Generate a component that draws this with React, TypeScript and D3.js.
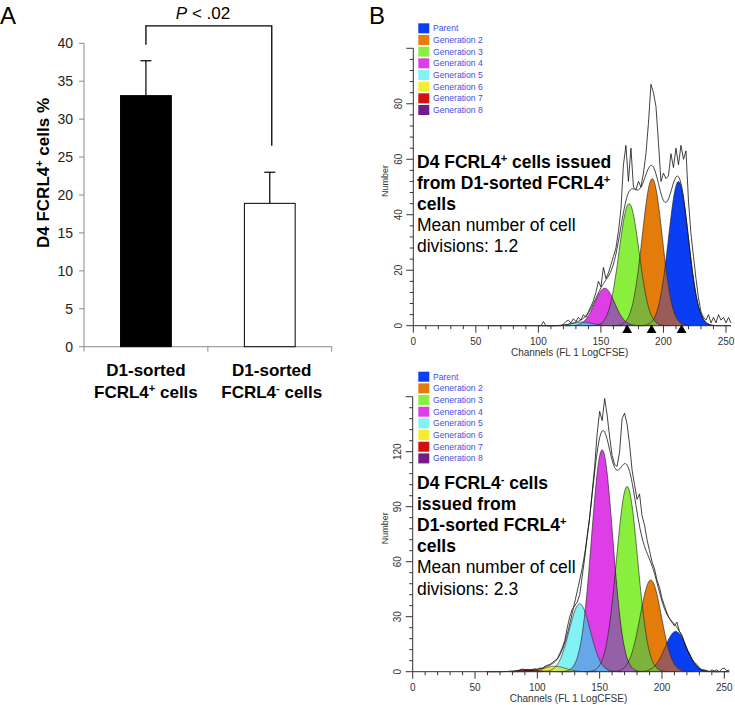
import * as React from "react";
import * as d3 from "d3";

// ---------- panel A: bar chart ----------
const categories = ["FCRL4+", "FCRL4-"];
const barMeans = [33.1, 18.9];
const barErrors = [4.6, 4.1];
const barFills = ["#000000", "#ffffff"];
const yTicksA = [0, 5, 10, 15, 20, 25, 30, 35, 40];
// bracket: left leg end, bracket top, right leg end (in % units)
const bracketValues = [39.8, 42.3, 26.5];

// ---------- panel B: CFSE proliferation fits ----------
const generations = ["Parent", "Generation 2", "Generation 3", "Generation 4", "Generation 5", "Generation 6", "Generation 7", "Generation 8"];
const genColors = ["#0a3ef2", "#e47c0c", "#8aee3e", "#de3ee6", "#82f2f4", "#f2ee2e", "#d41010", "#741c86"];
const overlapColors = ["#9a5c58", "#7fb23a", "#9660a6", "#68a6ea", "#c6e66a", "#d87a20", "#8a1a4e"];

// fitted generation peaks (channel centre, height)
const topCenters = [212, 191, 172.5, 153, 135, 117, 98, 80];
const topHeights = [52, 53, 44, 13.5, 1.3, 0, 0, 0];
const topSd = 8;
const bottomCenters = [211, 191, 172, 152, 134, 114, 93, 80];
const bottomHeights = [22, 50, 101, 121, 37, 3, 1, 0];
const bottomSd = 8.5;

// raw histograms, one value every 2 channels
const topRawStart = 100;
const topRaw = [
  0, 0, 1.5, 0, 0, 0, 0, 0, 0, 0,
  0.5, 1.5, 2, 1, 2.5, 1.5, 3, 2, 4, 3,
  5, 7, 9, 12, 16, 14, 21, 17, 19, 22,
  25, 28, 34, 42, 58, 65, 52, 64, 50, 49,
  52, 50, 55, 62, 73, 87, 84, 79, 66, 52,
  55, 53, 54, 62, 57, 64, 58, 65, 60, 63,
  45, 33, 25, 17, 10, 5, 3, 2, 4, 1,
  3, 1, 4, 2, 3, 1, 3, 1,
];
const bottomRawStart = 80;
const bottomRaw = [
  0, 0, 0.5, 1, 1.5, 1, 1, 0.5, 1, 1.5,
  1, 2, 1.5, 3, 3.5, 4, 5, 6, 7, 10,
  13, 17, 24, 30, 34, 36, 38, 42, 52, 62,
  74, 84, 98, 112, 130, 142, 137, 149, 140, 128,
  118, 113, 112, 120, 138, 141, 135, 124, 110, 102,
  94, 97, 85, 80, 72, 66, 60, 56, 50, 46,
  40, 36, 32, 29, 27, 25, 27, 22, 20, 16,
  12, 10, 7, 5, 4, 2, 1, 1, 0.5, 0,
  1, 0.5, 1, 0, 1.5, 2, 0.5, 1,
];
const topMarkers = [171, 190.5, 214.5];

type Seg = [string, boolean];
const topText: { bold: boolean; segs: Seg[] }[] = [
  { bold: true, segs: [["D4 FCRL4", false], ["+", true], [" cells issued", false]] },
  { bold: true, segs: [["from D1-sorted FCRL4", false], ["+", true]] },
  { bold: true, segs: [["cells", false]] },
  { bold: false, segs: [["Mean number of cell", false]] },
  { bold: false, segs: [["divisions: 1.2", false]] },
];
const bottomText: { bold: boolean; segs: Seg[] }[] = [
  { bold: true, segs: [["D4 FCRL4", false], ["-", true], [" cells", false]] },
  { bold: true, segs: [["issued from", false]] },
  { bold: true, segs: [["D1-sorted FCRL4", false], ["+", true]] },
  { bold: true, segs: [["cells", false]] },
  { bold: false, segs: [["Mean number of cell", false]] },
  { bold: false, segs: [["divisions: 2.3", false]] },
];

const FONT = "'Liberation Sans', Arial, Helvetica, sans-serif";

function BarPanel() {
  const y = d3.scaleLinear().domain([0, 40]).range([346.7, 43.3]);
  const x = d3.scaleBand<string>().domain(categories).range([84, 331.7]).paddingInner(0.59).paddingOuter(0.295);
  const step = x.step();
  const cx = (c: string) => (x(c) as number) + x.bandwidth() / 2;
  const axisGrey = "#8a8a8a";
  const bx0 = cx(categories[0]);
  const bx1 = cx(categories[1]) + 2;

  return (
    <g fontFamily={FONT}>
      <text x={0} y={24} fontSize={24}>A</text>
      {/* y axis */}
      <line x1={84} x2={84} y1={y(0)} y2={y(40)} stroke={axisGrey} />
      {yTicksA.map((t) => (
        <g key={t}>
          <line x1={79} x2={84} y1={y(t)} y2={y(t)} stroke={axisGrey} />
          <text x={73} y={y(t) + 5} fontSize={14} textAnchor="end" fill="#222">{t}</text>
        </g>
      ))}
      {/* x axis */}
      <line x1={84} x2={331.7} y1={y(0)} y2={y(0)} stroke={axisGrey} />
      {[0, 1, 2].map((i) => (
        <line key={i} x1={84 + i * step} x2={84 + i * step} y1={y(0)} y2={y(0) + 5} stroke={axisGrey} />
      ))}
      {/* bars + error bars */}
      {categories.map((c, i) => (
        <g key={c}>
          <rect x={x(c)} y={y(barMeans[i])} width={x.bandwidth()} height={y(0) - y(barMeans[i])}
            fill={barFills[i]} stroke="#000" strokeWidth={1} />
          <line x1={cx(c)} x2={cx(c)} y1={y(barMeans[i])} y2={y(barMeans[i] + barErrors[i])} stroke="#000" strokeWidth={1.2} />
          <line x1={cx(c) - 5.5} x2={cx(c) + 5.5} y1={y(barMeans[i] + barErrors[i])} y2={y(barMeans[i] + barErrors[i])} stroke="#000" strokeWidth={1.2} />
        </g>
      ))}
      {/* significance bracket */}
      <path d={`M${bx0},${y(bracketValues[0])}V${y(bracketValues[1])}H${bx1}V${y(bracketValues[2])}`}
        fill="none" stroke="#000" strokeWidth={1.3} />
      <text x={203} y={18.5} fontSize={17} textAnchor="middle">
        <tspan fontStyle="italic">P</tspan> &lt; .02
      </text>
      {/* y label */}
      <text transform={`translate(49,${(y(0) + y(40)) / 2 - 22}) rotate(-90)`} fontSize={17} fontWeight="bold" textAnchor="middle">
        D4 FCRL4<tspan dy={-6} fontSize={11}>+</tspan><tspan dy={6}> cells %</tspan>
      </text>
      {/* category labels */}
      {categories.map((c, i) => (
        <g key={c} fontSize={17} fontWeight="bold" textAnchor="middle">
          <text x={cx(c) + (i === 1 ? 2 : 0)} y={376}>D1-sorted</text>
          <text x={cx(c) + (i === 1 ? 2 : 0)} y={397.5}>
            FCRL4<tspan dy={-6} fontSize={11}>{c.slice(-1)}</tspan><tspan dy={6}> cells</tspan>
          </text>
        </g>
      ))}
    </g>
  );
}

interface HistProps {
  centers: number[];
  heights: number[];
  sd: number;
  rawStart: number;
  raw: number[];
  markers: number[];
  yMax: number;
  yMinor: number;
  yMajor: number;
  frame: { x0: number; x250: number; y0: number; yTop: number };
  legendY: number;
  lines: { bold: boolean; segs: Seg[] }[];
  textY: number;
}

function Histogram(p: HistProps) {
  const x = d3.scaleLinear().domain([0, 250]).range([p.frame.x0, p.frame.x250]);
  const y = d3.scaleLinear().domain([0, p.yMax]).range([p.frame.y0, p.frame.yTop]);
  const g = (i: number, ch: number) => p.heights[i] * Math.exp(-((ch - p.centers[i]) ** 2) / (2 * p.sd * p.sd));
  const span = (i: number): [number, number] => [p.centers[i] - 4 * p.sd, p.centers[i] + 4 * p.sd];

  const area = d3.area<[number, number]>().x((d) => x(d[0])).y0(y(0)).y1((d) => y(d[1]));
  const line = d3.line<[number, number]>().x((d) => x(d[0])).y((d) => y(d[1]));

  const active = p.heights.map((h, i) => i).filter((i) => p.heights[i] > 0);
  const genPts = (i: number) => d3.range(span(i)[0], span(i)[1] + 0.01, 0.5).map((ch) => [ch, g(i, ch)] as [number, number]);

  const overlaps = d3.range(generations.length - 1)
    .filter((i) => p.heights[i] > 0 && p.heights[i + 1] > 0)
    .map((i) => {
      const lo = Math.max(span(i)[0], span(i + 1)[0]);
      const hi = Math.min(span(i)[1], span(i + 1)[1]);
      const pts = d3.range(lo, hi + 0.01, 0.5).map((ch) => [ch, Math.min(g(i, ch), g(i + 1, ch))] as [number, number]);
      return { i, pts };
    });

  const sumPts = d3.range(60, 254.01, 0.5).map((ch) => [ch, d3.sum(active, (i) => g(i, ch))] as [number, number]);
  const rawPts = p.raw.map((v, k) => [p.rawStart + 2 * k, v] as [number, number]);

  const xMinor = d3.range(0, 251, 10);
  const yMinorTicks = d3.range(0, p.yMax + 0.01, p.yMinor);
  const tri = d3.symbol().type(d3.symbolTriangle).size(42)()!;
  const axisCol = "#333";

  return (
    <g fontFamily={FONT}>
      {/* generation peaks */}
      {active.map((i) => (
        <path key={"a" + i} d={area(genPts(i))!} fill={genColors[i]} />
      ))}
      {overlaps.map((o) => (
        <path key={"o" + o.i} d={area(o.pts)!} fill={overlapColors[o.i]} />
      ))}
      {active.map((i) => (
        <path key={"l" + i} d={line(genPts(i))!} fill="none" stroke="#1a1a1a" strokeWidth={0.6} />
      ))}
      {/* model sum and raw data */}
      <path d={line(sumPts)!} fill="none" stroke="#111" strokeWidth={0.8} />
      <path d={line(rawPts)!} fill="none" stroke="#111" strokeWidth={0.8} />

      {/* axes */}
      <line x1={x(0)} x2={x(0)} y1={y(0)} y2={y(p.yMax)} stroke={axisCol} />
      <line x1={x(0)} x2={x(254)} y1={y(0)} y2={y(0)} stroke={axisCol} />
      {yMinorTicks.map((t) => {
        const major = Math.abs(t % p.yMajor) < 1e-6;
        return (
          <g key={"y" + t}>
            <line x1={x(0) - (major ? 7 : 3.5)} x2={x(0)} y1={y(t)} y2={y(t)} stroke={axisCol} />
            {major && t < p.yMax && (
              <text transform={`translate(${x(0) - 11.5},${y(t)}) rotate(-90)`} fontSize={10} textAnchor="middle" fill="#333">{t}</text>
            )}
          </g>
        );
      })}
      {xMinor.map((t) => {
        const major = t % 50 === 0;
        return (
          <g key={"x" + t}>
            <line x1={x(t)} x2={x(t)} y1={y(0)} y2={y(0) + (major ? 7 : 3.5)} stroke={axisCol} />
            {major && (
              <text x={x(t)} y={y(0) + 19} fontSize={10} textAnchor="middle" fill="#333">{t}</text>
            )}
          </g>
        );
      })}
      {p.markers.map((m) => (
        <path key={"m" + m} d={tri} transform={`translate(${x(m)},${y(0) + 4.5})`} fill="#000" />
      ))}
      <text x={(x(0) + x(250)) / 2} y={y(0) + 30.5} fontSize={10} textAnchor="middle" fill="#333">Channels (FL 1 LogCFSE)</text>
      <text transform={`translate(388,${(y(0) + y(p.yMax)) / 2 - 6}) rotate(-90)`} fontSize={9} textAnchor="middle" fill="#333">Number</text>

      {/* legend */}
      {generations.map((gname, i) => (
        <g key={gname}>
          <rect x={418.3} y={p.legendY + i * 11.67 - 5} width={11} height={10} fill={genColors[i]} />
          <text x={433} y={p.legendY + i * 11.67 + 3} fontSize={8.6} fill="#3b4fe0">{gname}</text>
        </g>
      ))}

      {/* annotation */}
      {p.lines.map((ln, k) => (
        <text key={"t" + k} x={417} y={p.textY + k * 21.1} fontSize={17.5} fontWeight={ln.bold ? "bold" : "normal"} fill="#000">
          {ln.segs.map(([s, sup], j) =>
            sup ? (
              <tspan key={j} dy={-6} fontSize={11}>{s}</tspan>
            ) : (
              <tspan key={j} dy={j > 0 && ln.segs[j - 1][1] ? 6 : 0}>{s}</tspan>
            )
          )}
        </text>
      ))}
    </g>
  );
}

export default function App() {
  return (
    <svg width={735} height={705} style={{ position: "absolute", left: 0, top: 0, background: "#fff" }}>
      <rect width={735} height={705} fill="#fff" />
      <BarPanel />
      <text x={369} y={23.5} fontSize={24} fontFamily={FONT}>B</text>
      <Histogram
        centers={topCenters} heights={topHeights} sd={topSd}
        rawStart={topRawStart} raw={topRaw} markers={topMarkers}
        yMax={100} yMinor={4} yMajor={20}
        frame={{ x0: 413.3, x250: 726, y0: 325.7, yTop: 48.3 }}
        legendY={28.3} lines={topText} textY={168}
      />
      <Histogram
        centers={bottomCenters} heights={bottomHeights} sd={bottomSd}
        rawStart={bottomRawStart} raw={bottomRaw} markers={[]}
        yMax={150} yMinor={6} yMajor={30}
        frame={{ x0: 412.7, x250: 724.3, y0: 671.7, yTop: 396.7 }}
        legendY={376.7} lines={bottomText} textY={489}
      />
    </svg>
  );
}
